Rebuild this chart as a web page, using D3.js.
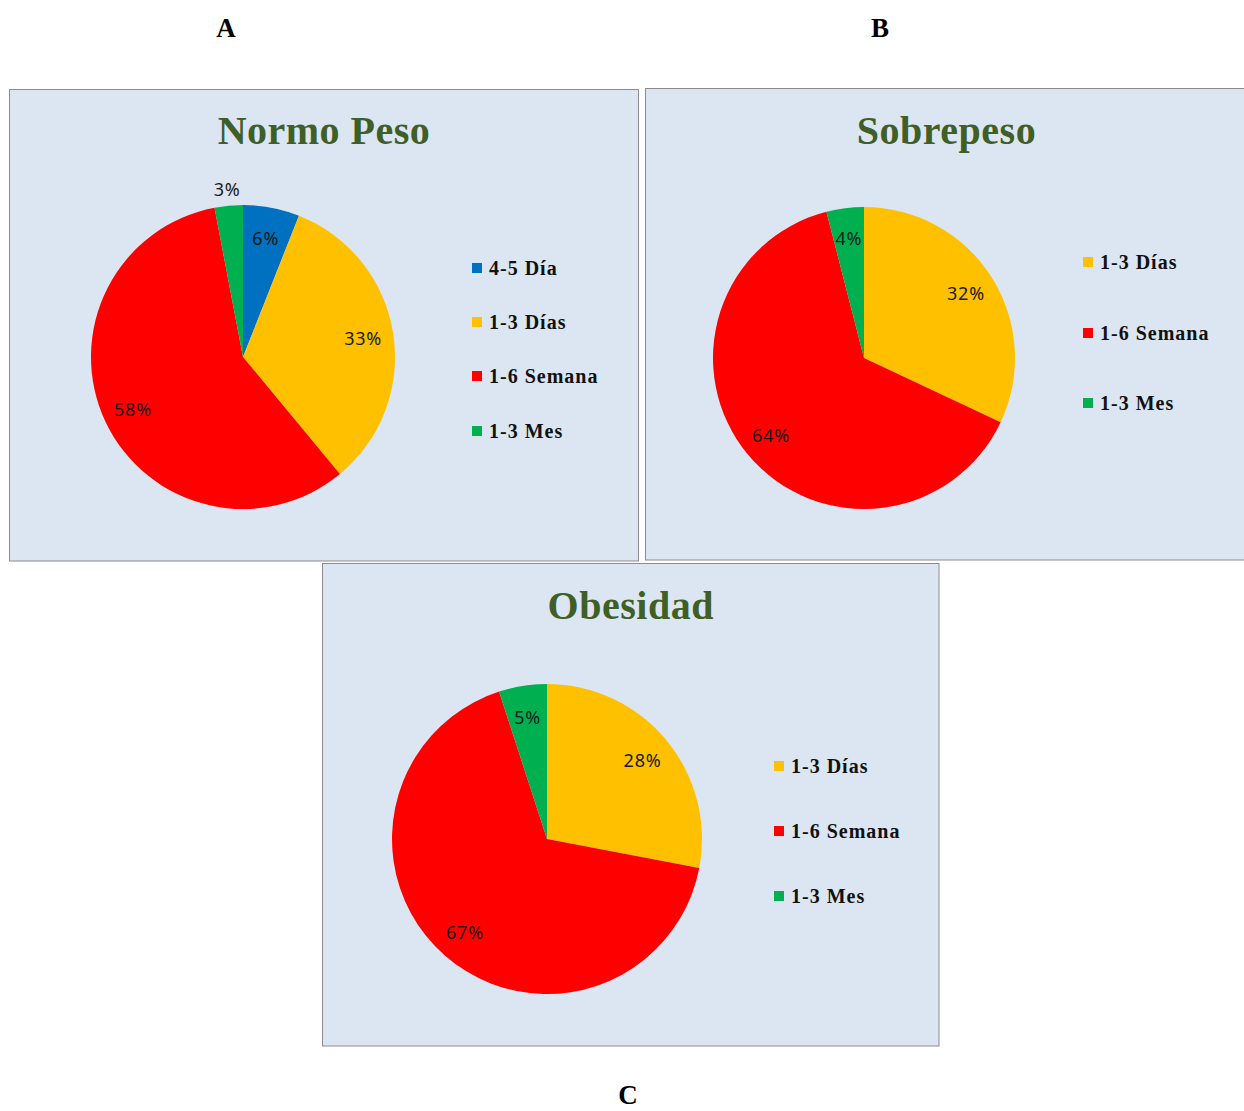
<!DOCTYPE html>
<html>
<head>
<meta charset="utf-8">
<script src="https://cdn.jsdelivr.net/npm/d3@7"></script>
<style>
  html, body { margin: 0; padding: 0; background: #ffffff; }
  svg { display: block; }
</style>
</head>
<body>
<svg id="chart" width="1244" height="1111"></svg>
<script>
// ---- Data ----
const panelLetters = ["A", "B", "C"];
const titles = ["Normo Peso", "Sobrepeso", "Obesidad"];

const categoriesA = ["4-5 Día", "1-3 Días", "1-6 Semana", "1-3 Mes"];
const valuesA = [6, 33, 58, 3];

const categoriesB = ["1-3 Días", "1-6 Semana", "1-3 Mes"];
const valuesB = [32, 64, 4];

const categoriesC = ["1-3 Días", "1-6 Semana", "1-3 Mes"];
const valuesC = [28, 67, 5];

const colorMap = {
  "4-5 Día": "#0070c0",
  "1-3 Días": "#ffc000",
  "1-6 Semana": "#ff0000",
  "1-3 Mes": "#00b050"
};

// ---- Layout (positions / styles) ----
const panels = [
  { letter: panelLetters[0], title: titles[0], cats: categoriesA, vals: valuesA,
    box: [9.5, 89.5, 629, 471.5], titleY: 144, cx: 243, cy: 357, r: 152,
    legX: 472, legRows: [268, 322, 376, 431] },
  { letter: panelLetters[1], title: titles[1], cats: categoriesB, vals: valuesB,
    box: [645.5, 88.5, 602, 471.5], titleY: 144, cx: 864, cy: 358, r: 151,
    legX: 1083, legRows: [262, 333, 403] },
  { letter: panelLetters[2], title: titles[2], cats: categoriesC, vals: valuesC,
    box: [322.5, 563.5, 616.5, 482.5], titleY: 619, cx: 547, cy: 839, r: 155,
    legX: 774, legRows: [766, 831, 896] }
];
const letterPos = [[226, 37], [880, 37], [628, 1104]];

const svg = d3.select("#chart");

const serif = "'Liberation Serif', 'Times New Roman', serif";
const sans = "'Noto Sans', 'Liberation Sans', sans-serif";

panels.forEach((p, i) => {
  // Panel letter
  svg.append("text")
    .attr("x", letterPos[i][0]).attr("y", letterPos[i][1])
    .attr("text-anchor", "middle")
    .attr("font-family", serif).attr("font-weight", "bold")
    .attr("font-size", 27).attr("fill", "#000")
    .text(p.letter);

  const g = svg.append("g");
  g.append("rect")
    .attr("x", p.box[0]).attr("y", p.box[1])
    .attr("width", p.box[2]).attr("height", p.box[3])
    .attr("fill", "#dce6f2").attr("stroke", "#8c8c8c").attr("stroke-width", 1);

  g.append("text")
    .attr("x", p.box[0] + p.box[2] / 2).attr("y", p.titleY)
    .attr("text-anchor", "middle")
    .attr("font-family", serif).attr("font-weight", "bold")
    .attr("font-size", 40).attr("letter-spacing", 0.5).attr("fill", "#3f5f27")
    .text(p.title);

  const data = p.cats.map((c, j) => ({ cat: c, val: p.vals[j] }));
  const pie = d3.pie().sort(null).value(d => d.val);
  const arcs = pie(data);
  const arc = d3.arc().innerRadius(0).outerRadius(p.r);
  const labelArcIn = d3.arc().innerRadius(p.r * 0.8).outerRadius(p.r * 0.8);
  const labelArcOut = d3.arc().innerRadius(p.r * 1.11).outerRadius(p.r * 1.11);

  const pg = g.append("g").attr("transform", `translate(${p.cx},${p.cy})`);
  pg.selectAll("path").data(arcs).enter().append("path")
    .attr("d", arc)
    .attr("fill", d => colorMap[d.data.cat]);

  pg.selectAll("text").data(arcs).enter().append("text")
    .attr("transform", d => {
      const c = (d.data.val <= 3 ? labelArcOut : labelArcIn).centroid(d);
      return `translate(${c[0]},${c[1]})`;
    })
    .attr("text-anchor", "middle")
    .attr("dominant-baseline", "central")
    .attr("font-family", sans).attr("font-size", 18).attr("letter-spacing", 0.8)
    .attr("fill", "#1a1a1a")
    .text(d => d.data.val + "%");

  // Legend
  const lg = g.append("g");
  p.cats.forEach((c, j) => {
    const y = p.legRows[j];
    lg.append("rect")
      .attr("x", p.legX).attr("y", y - 5)
      .attr("width", 10).attr("height", 10)
      .attr("fill", colorMap[c]);
    lg.append("text")
      .attr("x", p.legX + 17).attr("y", y)
      .attr("dominant-baseline", "central")
      .attr("font-family", serif).attr("font-weight", "bold")
      .attr("font-size", 20).attr("letter-spacing", 1).attr("fill", "#111")
      .text(c);
  });
});
</script>
</body>
</html>
